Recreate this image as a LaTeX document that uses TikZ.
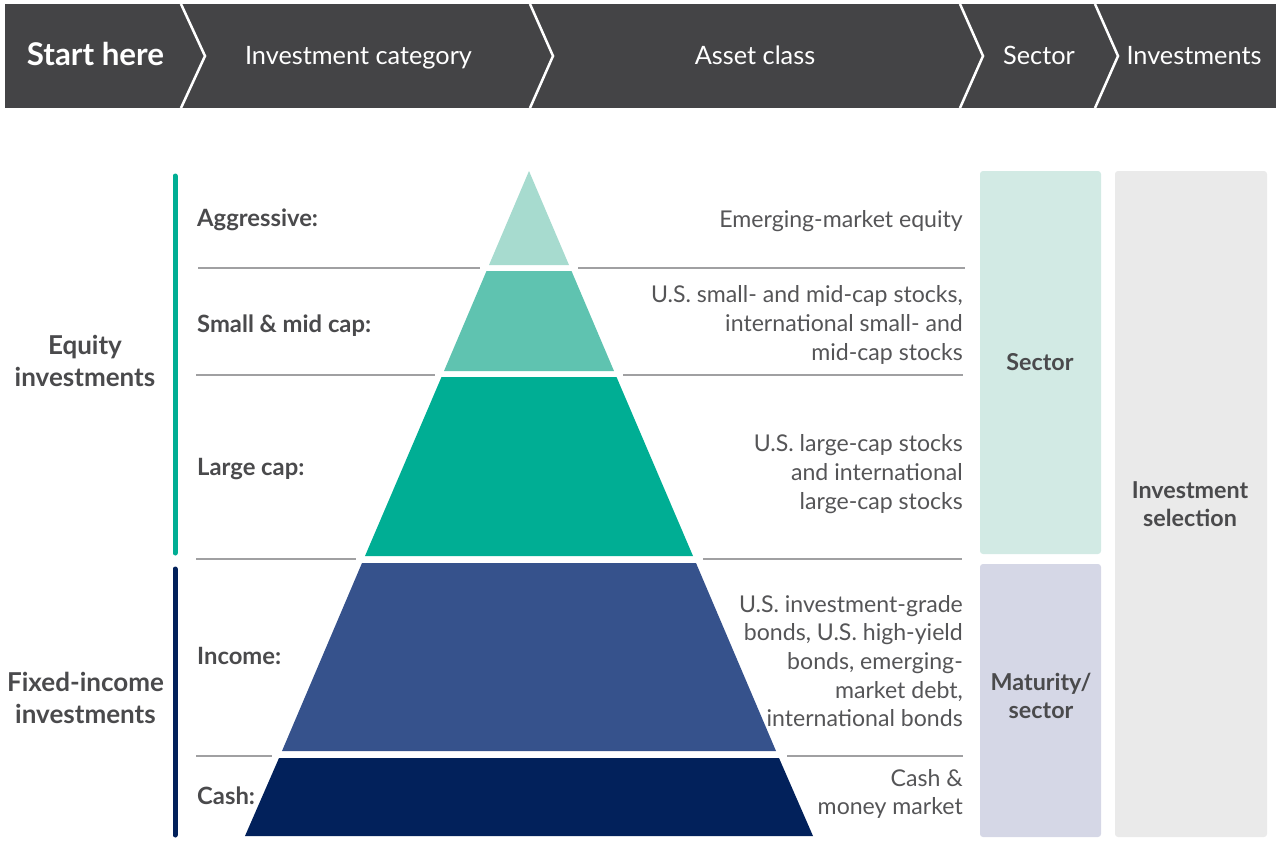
\documentclass[tikz,border=0pt]{standalone}
\usepackage{fontspec}
\setmainfont{Lato}
\definecolor{hdr}{HTML}{444446}
\definecolor{txt}{HTML}{4A4A4C}
\definecolor{desc}{HTML}{555557}
\definecolor{lineg}{HTML}{A0A0A2}
\definecolor{pA}{HTML}{A7DBCF}
\definecolor{pB}{HTML}{5FC3B0}
\definecolor{pC}{HTML}{00AE94}
\definecolor{pD}{HTML}{36528C}
\definecolor{pE}{HTML}{02215B}
\definecolor{boxS}{HTML}{D2EAE4}
\definecolor{boxM}{HTML}{D5D7E6}
\definecolor{boxI}{HTML}{EAEAEA}
\tikzset{
  hdrtext/.style={anchor=base,text=white,font=\fontsize{25.3}{29}\selectfont,inner sep=0pt},
  rowlabel/.style={anchor=west,text=txt,font=\bfseries\fontsize{23.8}{28}\selectfont,inner sep=0pt},
  desctext/.style={anchor=east,align=right,text=desc,font=\fontsize{23.1}{28.6}\selectfont,inner sep=0pt},
  grouplabel/.style={align=center,text=txt,font=\bfseries\fontsize{26}{32.5}\selectfont,inner sep=0pt},
  boxlabel/.style={align=center,text=txt,font=\bfseries\fontsize{23.3}{28.5}\selectfont,inner sep=0pt},
  sepline/.style={draw=lineg,line width=1.2pt},
  chev/.style={draw=white,line width=2.5pt},
  gbar/.style={line width=5pt,line cap=round}
}
\begin{document}
\begin{tikzpicture}[x=1pt,y=-1pt]
\useasboundingbox (0,0) rectangle (1276,840);
% header band
\fill[hdr] (5,4) rectangle (1276,108);
\draw[chev] (181,4) -- (205,56) -- (181,108);
\draw[chev] (530,4) -- (553,56) -- (530,108);
\draw[chev] (960,4) -- (983,56) -- (960,108);
\draw[chev] (1095,4) -- (1118,56) -- (1095,108);
\node[hdrtext,font=\bfseries\fontsize{31.3}{34}\selectfont] (h1) at (95.5,66) {Start here};
\node[hdrtext] (h2) at (358.5,64.5) {Investment category};
\node[hdrtext] (h3) at (755,64.5) {Asset class};
\node[hdrtext] (h4) at (1039,64.5) {Sector};
\node[hdrtext] (h5) at (1194,64.5) {Investments};
% group bars
\draw[gbar,draw=pC] (175,176) -- (175,553);
\draw[gbar,draw=pE] (175,569) -- (175,835);
\node[grouplabel] (eq) at (85,361) {Equity\\investments};
\node[grouplabel] (fi) at (85.5,698) {Fixed-income\\investments};
% separator lines
\draw[sepline] (198,268) -- (480,268);
\draw[sepline] (578,268) -- (965,268);
\draw[sepline] (196,375) -- (435,375);
\draw[sepline] (623,375) -- (963,375);
\draw[sepline] (196,559) -- (356,559);
\draw[sepline] (703,559) -- (962,559);
\draw[sepline] (196,756) -- (272,756);
\draw[sepline] (787,756) -- (963,756);
% pyramid
\fill[pA] (529,171) -- (569,265) -- (489,265) -- cycle;
\fill[pB] (486.5,271) -- (571.5,271) -- (614,371) -- (444,371) -- cycle;
\fill[pC] (441.5,377) -- (616.5,377) -- (693,556) -- (365,556) -- cycle;
\fill[pD] (362,563) -- (696,563) -- (776,751) -- (282,751) -- cycle;
\fill[pE] (279,758) -- (779,758) -- (813,836) -- (245,836) -- cycle;
% row labels
\node[rowlabel] (r1) at (197,219.5) {Aggressive:};
\node[rowlabel] (r2) at (197,326) {Small \& mid cap:};
\node[rowlabel] (r3) at (197,469) {Large cap:};
\node[rowlabel] (r4) at (197,656) {Income:};
\node[rowlabel] (r5) at (197,796) {Cash:};
% descriptions
\node[desctext] (d1) at (963,221) {Emerging-market equity};
\node[desctext] (d2) at (963,325) {U.S. small- and mid-cap stocks,\\international small- and\\mid-cap stocks};
\node[desctext] (d3) at (963,474) {U.S. large-cap stocks\\and international\\large-cap stocks};
\node[desctext] (d4) at (963,661) {U.S. investment-grade\\bonds, U.S. high-yield\\bonds, emerging-\\market debt,\\international bonds};
\node[desctext] (d5) at (963,794) {Cash \&\\money market};
% right boxes
\fill[boxS,rounded corners=3pt] (980,171) rectangle (1101,554);
\fill[boxM,rounded corners=3pt] (980,564) rectangle (1101,837);
\fill[boxI,rounded corners=3pt] (1115,171) rectangle (1267,837);
\node[boxlabel] (b1) at (1040,362) {Sector};
\node[boxlabel] (b2) at (1041,696) {Maturity/\\sector};
\node[boxlabel] (b3) at (1190,504) {Investment\\selection};
\end{tikzpicture}
\end{document}
